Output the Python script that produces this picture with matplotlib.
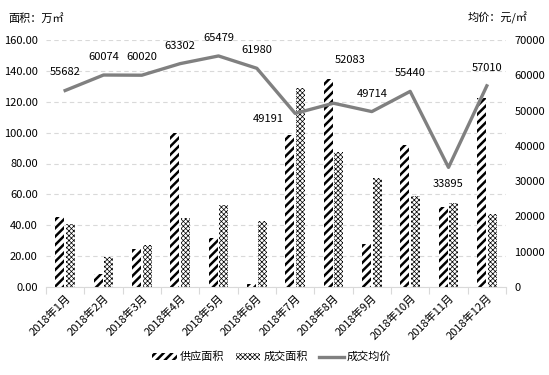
import numpy as np
import matplotlib
matplotlib.use('Agg')
import matplotlib.pyplot as plt
from matplotlib.patches import Patch
from matplotlib.lines import Line2D

plt.rcParams['font.family'] = ['Noto Sans CJK SC', 'DejaVu Sans']
plt.rcParams['font.size'] = 8

# data
months = ['2018年1月', '2018年2月', '2018年3月', '2018年4月', '2018年5月', '2018年6月',
          '2018年7月', '2018年8月', '2018年9月', '2018年10月', '2018年11月', '2018年12月']
supply_area = [45.5, 8.4, 24.6, 99.8, 31.7, 2.0, 98.5, 134.7, 27.9, 92.0, 52.0, 122.6]
deal_area = [40.8, 19.4, 27.2, 44.7, 53.1, 43.0, 128.9, 87.4, 70.6, 58.9, 54.6, 47.3]
avg_price = [55682, 60074, 60020, 63302, 65479, 61980, 49191, 52083, 49714, 55440, 33895, 57010]

# label offsets (points) for the price labels
label_offsets = [(0, 13), (0, 13), (0, 13), (0, 13), (0, 13), (0, 13),
                 (-19, -4), (12, 31), (0, 13), (0, 13), (0, -12), (0, 13)]

SUPPLY_HATCH = '////'
DEAL_HATCH = 'xxxxxxx'
SUPPLY_HLW = 1.8
DEAL_HLW = 0.5

fig = plt.figure(figsize=(5.49, 3.75), dpi=100)
ax = fig.add_axes([46 / 549, 1 - 287 / 375, 460 / 549, 247 / 375])
x = np.arange(len(months))
w = 0.23

# hatch linewidth is picked up when the patch is created
plt.rcParams['hatch.linewidth'] = SUPPLY_HLW
ax.bar(x - 0.14, supply_area, w, facecolor='white', edgecolor='black', linewidth=0,
       hatch=SUPPLY_HATCH, zorder=2)
plt.rcParams['hatch.linewidth'] = DEAL_HLW
ax.bar(x + 0.14, deal_area, w, facecolor='white', edgecolor='black', linewidth=0,
       hatch=DEAL_HATCH, zorder=2)

ax.set_xlim(-0.5, len(months) - 0.5)
ax.set_ylim(0, 160)
ax.set_yticks(np.arange(0, 161, 20))
ax.set_yticklabels([f'{v:.2f}' for v in np.arange(0, 161, 20)])
ax.grid(axis='y', color='#d9d9d9', linestyle=(0, (4, 3)), linewidth=0.8, zorder=0)
ax.set_axisbelow(True)
for s in ['left', 'right', 'top']:
    ax.spines[s].set_visible(False)
ax.spines['bottom'].set_color('#d9d9d9')
ax.tick_params(axis='y', length=0, pad=6)
ax.set_xticks(np.arange(-0.5, len(months), 1))
ax.set_xticklabels([])
ax.tick_params(axis='x', which='major', length=5, color='#d9d9d9')
ax.set_xticks(x, minor=True)
ax.set_xticklabels(months, minor=True, rotation=45, ha='right', rotation_mode='anchor')
ax.tick_params(axis='x', which='minor', length=0, pad=4)

ax2 = ax.twinx()
ax2.plot(x, avg_price, color='#808080', linewidth=2.4, zorder=3)
ax2.set_ylim(0, 70000)
ax2.set_yticks(np.arange(0, 70001, 10000))
ax2.tick_params(axis='y', length=0, pad=6)
for s in ['left', 'right', 'top', 'bottom']:
    ax2.spines[s].set_visible(False)
for xi, v, off in zip(x, avg_price, label_offsets):
    ax2.annotate(str(v), (xi, v), xytext=off, textcoords='offset points',
                 ha='center', va='center', fontsize=8)

fig.text(8 / 549, 1 - 18 / 375, '面积：万㎡', ha='left', va='center', fontsize=8)
fig.text(468 / 549, 1 - 18 / 375, '均价：元/㎡', ha='left', va='center', fontsize=8)

handles = [Patch(facecolor='white', edgecolor='black', linewidth=0, hatch=SUPPLY_HATCH),
           Patch(facecolor='white', edgecolor='black', linewidth=0, hatch=DEAL_HATCH),
           Line2D([0], [0], color='#808080', linewidth=2.4)]
leg = fig.legend(handles, ['供应面积', '成交面积', '成交均价'], loc='center',
                 bbox_to_anchor=(272 / 549, 1 - 357 / 375), ncol=3, frameon=False,
                 handlelength=2.2, handleheight=0.5, columnspacing=1.0, handletextpad=0.3)
# legend patches take the current rc hatch width, so set each one
for p, lw in zip(leg.get_patches(), [SUPPLY_HLW, DEAL_HLW]):
    p._hatch_linewidth = lw

fig.savefig('out.png', dpi=100)
